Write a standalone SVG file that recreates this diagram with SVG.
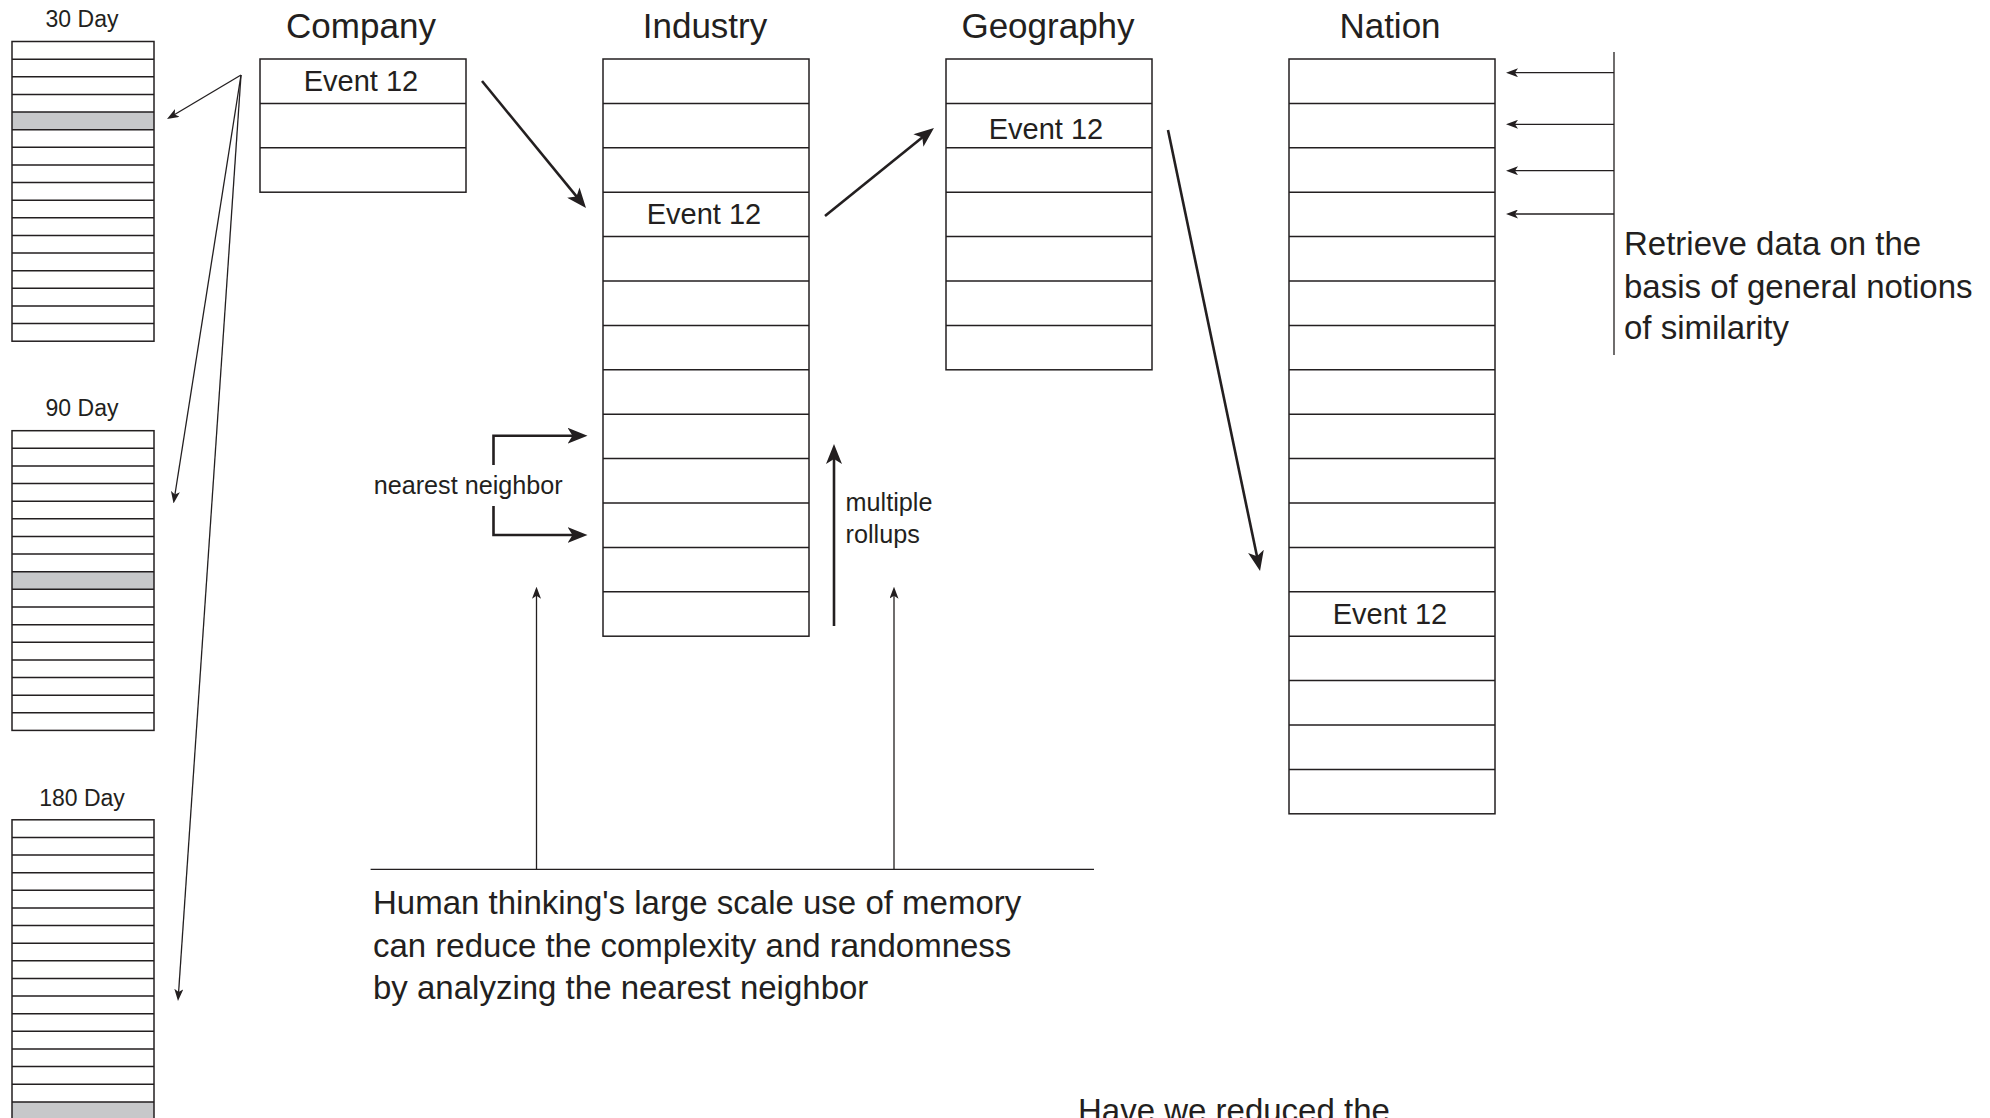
<svg xmlns="http://www.w3.org/2000/svg" xmlns:xlink="http://www.w3.org/1999/xlink" width="1990" height="1118" viewBox="0 0 1990 1118">
<style>
.t{font-family:"Liberation Sans",Arial,sans-serif;fill:#231f20}
.title{font-size:35px;text-anchor:middle}
.ev{font-size:29px;text-anchor:middle}
.day{font-size:23px;text-anchor:middle}
.note{font-size:33px}
.lab{font-size:25.2px}
.grid{fill:none;stroke:#231f20;stroke-width:1.5}
.bg{fill:#ffffff}
.sh{fill:#c7c8ca}
.thin{fill:none;stroke:#231f20;stroke-width:1.3}
.bold{fill:none;stroke:#231f20;stroke-width:2.6}
</style>
<defs>
<marker id="hb" markerUnits="userSpaceOnUse" viewBox="0 0 20 16" markerWidth="20" markerHeight="16" refX="14" refY="8" orient="auto"><path d="M0,0 L20,8 L0,16 L5,8 z" fill="#231f20"/></marker>
<marker id="ht" markerUnits="userSpaceOnUse" viewBox="0 0 12 9" markerWidth="12" markerHeight="9" refX="9" refY="4.5" orient="auto"><path d="M0,0 L12,4.5 L0,9 L3,4.5 z" fill="#231f20"/></marker>
<g id="dayrows">
<rect class="grid" x="0" y="0" width="142" height="299.71"/>
<path class="grid" d="M0,17.63h142M0,35.26h142M0,52.89h142M0,70.52h142M0,88.15h142M0,105.78h142M0,123.41h142M0,141.04h142M0,158.67h142M0,176.3h142M0,193.93h142M0,211.56h142M0,229.19h142M0,246.82h142M0,264.45h142M0,282.08h142"/>
</g>
</defs>
<rect width="1990" height="1118" fill="#ffffff"/>

<g id="day30">
<text class="t day" x="82" y="27">30 Day</text>
<g transform="translate(12,41.5)">
<rect class="bg" width="142" height="299.71"/>
<rect class="sh" x="0" y="70.52" width="142" height="17.63"/>
<use xlink:href="#dayrows"/>
</g>
</g>

<g id="day90">
<text class="t day" x="82" y="415.5">90 Day</text>
<g transform="translate(12,430.7)">
<rect class="bg" width="142" height="299.71"/>
<rect class="sh" x="0" y="141.04" width="142" height="17.63"/>
<use xlink:href="#dayrows"/>
</g>
</g>

<g id="day180">
<text class="t day" x="82" y="805.5">180 Day</text>
<g transform="translate(12,819.8)">
<rect class="bg" width="142" height="299.71"/>
<rect class="sh" x="0" y="282.08" width="142" height="17.63"/>
<use xlink:href="#dayrows"/>
</g>
</g>

<g id="company">
<text class="t title" x="361" y="38">Company</text>
<rect class="grid" x="260" y="59" width="206" height="133.2"/>
<path class="grid" d="M260,103.4h206M260,147.8h206"/>
<text class="t ev" x="361" y="91">Event 12</text>
</g>

<g id="industry">
<text class="t title" x="705" y="38">Industry</text>
<rect class="grid" x="603" y="59" width="206" height="577.2"/>
<path class="grid" d="M603,103.4h206M603,147.8h206M603,192.2h206M603,236.6h206M603,281h206M603,325.4h206M603,369.8h206M603,414.2h206M603,458.6h206M603,503h206M603,547.4h206M603,591.8h206"/>
<text class="t ev" x="704" y="224.2">Event 12</text>
</g>

<g id="geography">
<text class="t title" x="1048" y="38">Geography</text>
<rect class="grid" x="946" y="59" width="206" height="310.8"/>
<path class="grid" d="M946,103.4h206M946,147.8h206M946,192.2h206M946,236.6h206M946,281h206M946,325.4h206"/>
<text class="t ev" x="1046" y="138.5">Event 12</text>
</g>

<g id="nation">
<text class="t title" x="1390" y="38">Nation</text>
<rect class="grid" x="1289" y="59" width="206" height="754.8"/>
<path class="grid" d="M1289,103.4h206M1289,147.8h206M1289,192.2h206M1289,236.6h206M1289,281h206M1289,325.4h206M1289,369.8h206M1289,414.2h206M1289,458.6h206M1289,503h206M1289,547.4h206M1289,591.8h206M1289,636.2h206M1289,680.6h206M1289,725h206M1289,769.4h206"/>
<text class="t ev" x="1390" y="624">Event 12</text>
</g>

<g id="connectors">
<line class="thin" x1="241" y1="75" x2="169.6" y2="117.5" marker-end="url(#ht)"/>
<line class="thin" x1="241" y1="75" x2="174" y2="500.5" marker-end="url(#ht)"/>
<line class="thin" x1="241" y1="75" x2="178.2" y2="998" marker-end="url(#ht)"/>
<line class="bold" x1="482" y1="81" x2="582.2" y2="203.4" marker-end="url(#hb)"/>
<line class="bold" x1="825" y1="216" x2="929.3" y2="131.8" marker-end="url(#hb)"/>
<line class="bold" x1="1168" y1="130" x2="1258.8" y2="565.1" marker-end="url(#hb)"/>
<line class="bold" x1="834" y1="626" x2="834" y2="450" marker-end="url(#hb)"/>
<path class="bold" d="M493.5,465V435.7H581.5" marker-end="url(#hb)"/>
<path class="bold" d="M493.5,506V535H581.5" marker-end="url(#hb)"/>
<line class="thin" x1="370.6" y1="869.3" x2="1094" y2="869.3"/>
<line class="thin" x1="536.5" y1="869.3" x2="536.5" y2="589.7" marker-end="url(#ht)"/>
<line class="thin" x1="894" y1="869.3" x2="894" y2="589.7" marker-end="url(#ht)"/>
<line class="thin" x1="1614" y1="52" x2="1614" y2="355"/>
<line class="thin" x1="1614" y1="72.7" x2="1509" y2="72.7" marker-end="url(#ht)"/>
<line class="thin" x1="1614" y1="124.3" x2="1509" y2="124.3" marker-end="url(#ht)"/>
<line class="thin" x1="1614" y1="170.7" x2="1509" y2="170.7" marker-end="url(#ht)"/>
<line class="thin" x1="1614" y1="214" x2="1509" y2="214" marker-end="url(#ht)"/>
</g>

<g id="labels">
<text class="t lab" x="373.7" y="494">nearest neighbor</text>
<text class="t lab" x="845.6" y="511">multiple</text>
<text class="t lab" x="845.6" y="542.5">rollups</text>
<text class="t note" x="1624" y="255">Retrieve data on the</text>
<text class="t note" x="1624" y="297.5">basis of general notions</text>
<text class="t note" x="1624" y="339">of similarity</text>
<text class="t note" x="373" y="914">Human thinking's large scale use of memory</text>
<text class="t note" x="373" y="956.5">can reduce the complexity and randomness</text>
<text class="t note" x="373" y="999">by analyzing the nearest neighbor</text>
<text class="t note" x="1078" y="1122">Have we reduced the</text>
</g>
</svg>
